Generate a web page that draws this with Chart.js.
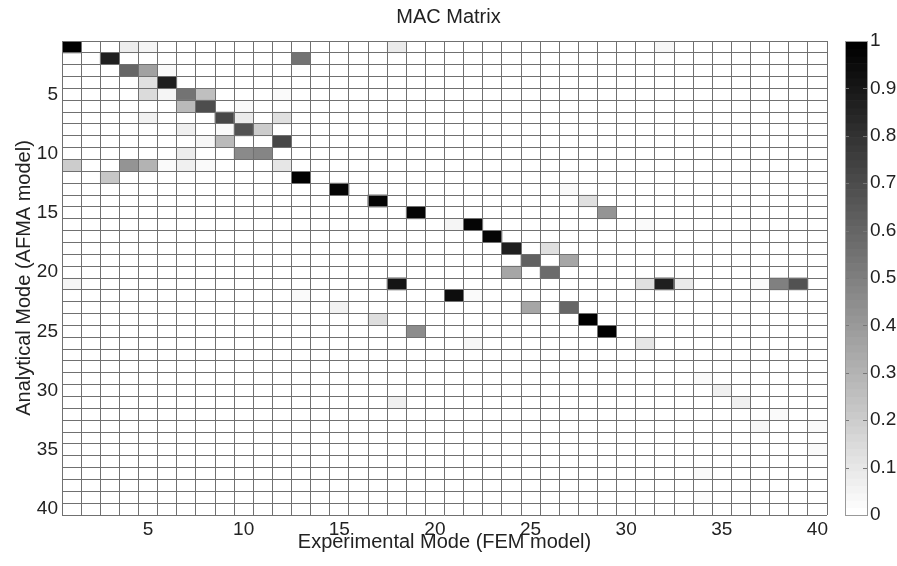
<!DOCTYPE html>
<html>
<head>
<meta charset="utf-8">
<title>MAC Matrix</title>
<script src="https://cdn.jsdelivr.net/npm/chart.js@4.4.1/dist/chart.umd.min.js"></script>
<style>
  html, body { margin: 0; padding: 0; background: #fff; }
  #mac { display: block; }
</style>
</head>
<body>
<canvas id="mac" width="897" height="566"></canvas>
<script>
const modes = [1, 2, 3, 4, 5, 6, 7, 8, 9, 10, 11, 12, 13, 14, 15, 16, 17, 18, 19, 20,
               21, 22, 23, 24, 25, 26, 27, 28, 29, 30, 31, 32, 33, 34, 35, 36, 37, 38, 39, 40];
const axisTicks = [5, 10, 15, 20, 25, 30, 35, 40];
const colorbarTicks = [0, 0.1, 0.2, 0.3, 0.4, 0.5, 0.6, 0.7, 0.8, 0.9, 1];

// [analytical mode (row), experimental mode (column), MAC value]; every other cell is 0
const macCells = [
    [1, 1, 1.0], [1, 4, 0.07], [1, 5, 0.04], [1, 18, 0.08], [1, 32, 0.03],
    [2, 3, 0.88], [2, 13, 0.55],
    [3, 4, 0.6], [3, 5, 0.37], [3, 6, 0.02],
    [4, 5, 0.12], [4, 6, 0.88],
    [5, 5, 0.14], [5, 6, 0.04], [5, 7, 0.55], [5, 8, 0.25], [5, 12, 0.02],
    [6, 7, 0.27], [6, 8, 0.7], [6, 10, 0.02],
    [7, 5, 0.05], [7, 9, 0.72], [7, 10, 0.08], [7, 12, 0.12],
    [8, 7, 0.06], [8, 9, 0.02], [8, 10, 0.68], [8, 11, 0.2],
    [9, 8, 0.03], [9, 9, 0.27], [9, 12, 0.72],
    [10, 7, 0.07], [10, 10, 0.46], [10, 11, 0.48],
    [11, 1, 0.2], [11, 4, 0.42], [11, 5, 0.3], [11, 6, 0.02], [11, 7, 0.06], [11, 8, 0.02], [11, 12, 0.1],
    [12, 3, 0.22], [12, 13, 1.0],
    [13, 15, 0.98], [13, 27, 0.02],
    [14, 17, 0.98], [14, 28, 0.12],
    [15, 19, 0.98], [15, 29, 0.42],
    [16, 21, 0.04], [16, 22, 0.98], [16, 31, 0.02],
    [17, 23, 0.98],
    [18, 24, 0.88], [18, 26, 0.12],
    [19, 25, 0.62], [19, 27, 0.35],
    [20, 24, 0.35], [20, 26, 0.58],
    [21, 1, 0.04], [21, 18, 0.92], [21, 31, 0.12], [21, 32, 0.88], [21, 33, 0.08], [21, 37, 0.02], [21, 38, 0.5], [21, 39, 0.68],
    [22, 13, 0.02], [22, 21, 0.95], [22, 22, 0.02],
    [23, 15, 0.05], [23, 25, 0.35], [23, 27, 0.6],
    [24, 17, 0.13], [24, 28, 1.0],
    [25, 19, 0.45], [25, 29, 1.0],
    [26, 22, 0.03], [26, 31, 0.1],
    [29, 34, 0.02],
    [30, 35, 0.06],
    [31, 18, 0.06], [31, 36, 0.06],
    [32, 38, 0.02],
    [33, 37, 0.03], [33, 40, 0.02],
    [35, 40, 0.02],
    [37, 34, 0.02],
    [39, 34, 0.01]
];

const font_family = "'Liberation Sans', Arial, Helvetica, sans-serif";
const text_color = '#222';
const grid_color = '#707070';

// cell edges for the horizontal grid lines
const rowEdges = Array.from({ length: modes.length + 1 }, (_, i) => i + 0.5);

function grayFor(v) {
    const g = Math.round(255 * (1 - v));
    return `rgb(${g},${g},${g})`;
}

// keep end labels from pushing the plot area around
function fixSize(prop, size) {
    return (scale) => {
        scale[prop] = size;
        scale.paddingTop = 0;
        scale.paddingBottom = 0;
        scale.paddingLeft = 0;
        scale.paddingRight = 0;
    };
}

const cells = macCells.map(([row, col, mac]) => ({ x: col, y: [row - 0.5, row + 0.5], mac: mac }));

// gray colour bar drawn next to the 'cb' scale
const colorbarPlugin = {
    id: 'colorbar',
    afterDraw(chart) {
        const scale = chart.scales.cb;
        const ctx = chart.ctx;
        const left = Math.round(chart.chartArea.right) + 18;
        const width = 22;
        const steps = 64;
        ctx.save();
        for (let k = 0; k < steps; k++) {
            const y0 = scale.getPixelForValue(k / steps);
            const y1 = scale.getPixelForValue((k + 1) / steps);
            ctx.fillStyle = grayFor(k / (steps - 1));
            ctx.fillRect(left, y1, width, y0 - y1 + 0.6);
        }
        ctx.strokeStyle = '#777';
        ctx.lineWidth = 1;
        for (const t of scale.ticks) {
            if (t.value === 0 || t.value === 1) continue;
            const y = Math.round(scale.getPixelForValue(t.value)) + 0.5;
            ctx.beginPath();
            ctx.moveTo(left, y);
            ctx.lineTo(left + 4, y);
            ctx.moveTo(left + width - 4, y);
            ctx.lineTo(left + width, y);
            ctx.stroke();
        }
        const top = Math.round(scale.getPixelForValue(1)) + 0.5;
        const bottom = Math.round(scale.getPixelForValue(0)) + 0.5;
        ctx.strokeStyle = '#999';
        ctx.strokeRect(left + 0.5, top, width, bottom - top);
        ctx.restore();
    }
};

new Chart(document.getElementById('mac'), {
    type: 'bar',
    data: {
        labels: modes,
        datasets: [{
            label: 'MAC',
            data: cells,
            backgroundColor: (c) => grayFor(c.raw ? c.raw.mac : 0),
            borderWidth: 0,
            borderSkipped: false,
            barPercentage: 1,
            categoryPercentage: 1
        }]
    },
    options: {
        responsive: false,
        animation: false,
        devicePixelRatio: 1,
        layout: { padding: 0 },
        plugins: {
            legend: { display: false },
            tooltip: { enabled: false },
            title: {
                display: true,
                text: 'MAC Matrix',
                color: text_color,
                font: { family: font_family, size: 20, weight: 'normal' },
                padding: { top: 5, bottom: 12 }
            }
        },
        scales: {
            x: {
                type: 'category',
                offset: true,
                grid: { display: true, offset: true, color: grid_color, lineWidth: 1, drawTicks: false, z: 1 },
                border: { display: false },
                ticks: {
                    autoSkip: false,
                    maxRotation: 0,
                    padding: 3,
                    color: text_color,
                    font: { family: font_family, size: 19 },
                    callback: function (value) {
                        const m = this.getLabelForValue(value);
                        return axisTicks.includes(Number(m)) ? String(m) : '';
                    }
                },
                title: {
                    display: true,
                    text: 'Experimental Mode (FEM model)',
                    color: text_color,
                    font: { family: font_family, size: 20 },
                    padding: { top: 0, bottom: 12 }
                },
                afterFit: fixSize('height', 51)
            },
            y: {
                type: 'linear',
                position: 'left',
                reverse: true,
                min: 0.5,
                max: 40.5,
                grid: { display: false, drawTicks: false },
                border: { display: false },
                afterBuildTicks(scale) { scale.ticks = axisTicks.map(v => ({ value: v })); },
                ticks: {
                    padding: 4,
                    color: text_color,
                    font: { family: font_family, size: 19 },
                    callback: (v) => String(v)
                },
                title: {
                    display: true,
                    text: 'Analytical Mode (AFMA model)',
                    color: text_color,
                    font: { family: font_family, size: 20 },
                    padding: { top: 12, bottom: 0 }
                },
                afterFit: fixSize('width', 62)
            },
            yGrid: {
                type: 'linear',
                position: 'left',
                reverse: true,
                min: 0.5,
                max: 40.5,
                grid: { color: grid_color, lineWidth: 1, drawTicks: false, z: 1 },
                border: { display: false },
                ticks: { display: false },
                afterBuildTicks(scale) { scale.ticks = rowEdges.map(v => ({ value: v })); },
                afterFit: fixSize('width', 0)
            },
            cb: {
                type: 'linear',
                position: 'right',
                min: 0,
                max: 1,
                grid: { display: false, drawTicks: false },
                border: { display: false },
                afterBuildTicks(scale) { scale.ticks = colorbarTicks.map(v => ({ value: v })); },
                ticks: {
                    padding: 43,
                    color: text_color,
                    font: { family: font_family, size: 19 },
                    callback: (v) => String(Math.round(v * 10) / 10)
                },
                afterFit: fixSize('width', 70)
            }
        }
    },
    plugins: [colorbarPlugin]
});
</script>
</body>
</html>
